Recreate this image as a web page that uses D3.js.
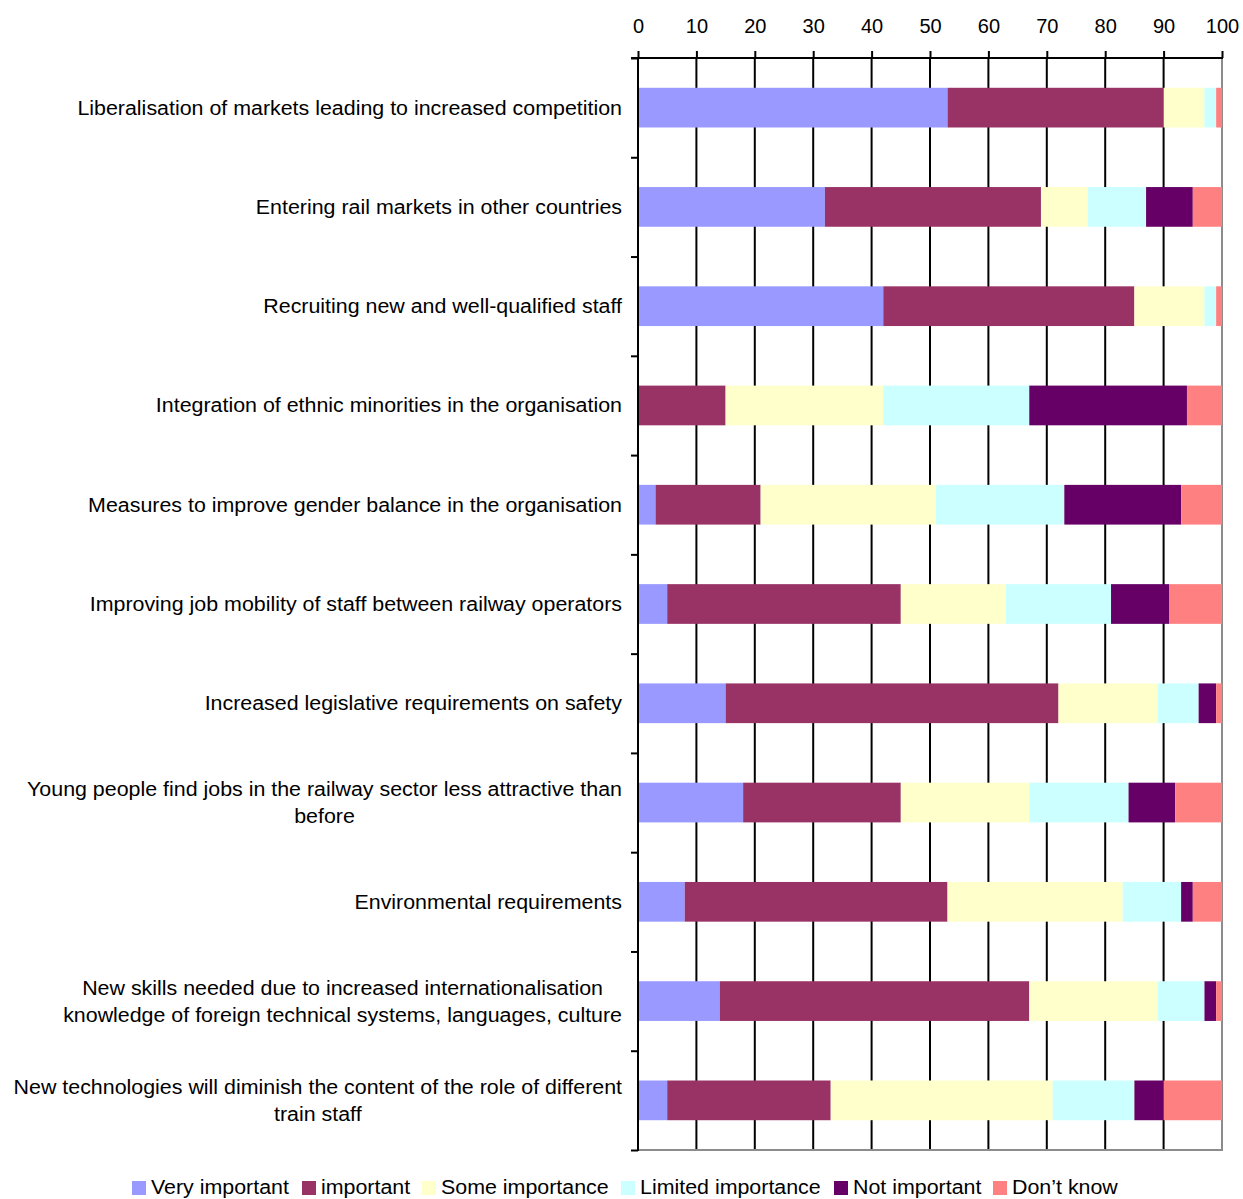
<!DOCTYPE html>
<html>
<head>
<meta charset="utf-8">
<script src="https://cdn.jsdelivr.net/npm/d3@7"></script>
<style>
  html, body { margin: 0; padding: 0; background: #fff; }
  svg text { font-family: "Liberation Sans", Arial, sans-serif; fill: #000; }
</style>
</head>
<body>
<svg id="chart" width="1243" height="1199"></svg>
<script>
// Survey factors (one row per category, each line of a label separate)
const categories = [
  ["Liberalisation of markets leading to increased competition"],
  ["Entering rail markets in other countries"],
  ["Recruiting new and well-qualified staff"],
  ["Integration of ethnic minorities in the organisation"],
  ["Measures to improve gender balance in the organisation"],
  ["Improving job mobility of staff between railway operators"],
  ["Increased legislative requirements on safety"],
  ["Young people find jobs in the railway sector less attractive than", "before"],
  ["Environmental requirements"],
  ["New skills needed due to increased internationalisation", "knowledge of foreign technical systems, languages, culture"],
  ["New technologies will diminish the content of the role of different", "train staff"]
];

const seriesNames = ["Very important", "important", "Some importance", "Limited importance", "Not important", "Don\u2019t know"];

// Percentages per series, in category order
const veryImportant   = [53, 32, 42,  0,  3,  5, 15, 18,  8, 14,  5];
const important       = [37, 37, 43, 15, 18, 40, 57, 27, 45, 53, 28];
const someImportance  = [ 7,  8, 12, 27, 30, 18, 17, 22, 30, 22, 38];
const limitedImport   = [ 2, 10,  2, 25, 22, 18,  7, 17, 10,  8, 14];
const notImportant    = [ 0,  8,  0, 27, 20, 10,  3,  8,  2,  2,  5];
const dontKnow        = [ 1,  5,  1,  6,  7,  9,  1,  8,  5,  1, 10];

const axisTicks = [0, 10, 20, 30, 40, 50, 60, 70, 80, 90, 100];

const colors = ["#9999FF", "#993366", "#FFFFCC", "#CCFFFF", "#660066", "#FF8080"];

const seriesValues = [veryImportant, important, someImportance, limitedImport, notImportant, dontKnow];
const keys = categories.map((c, i) => "c" + i);
const rows = keys.map((k, i) => {
  const r = { key: k };
  seriesNames.forEach((s, j) => { r[s] = seriesValues[j][i]; });
  return r;
});

const svg = d3.select("#chart");
const plotLeft = 638, plotRight = 1222, plotTop = 58, plotBottom = 1150;
const textStretch = 1.07;   // label and legend text is set slightly wide

const x = d3.scaleLinear().domain([0, 100]).range([plotLeft, plotRight]);
const y = d3.scaleBand().domain(keys).range([plotTop, plotBottom]).paddingInner(0.6).paddingOuter(0.3);
const yEdges = d3.scaleLinear().domain([0, categories.length]).range([plotTop, plotBottom]);

// Vertical gridlines
svg.append("g")
  .selectAll("line")
  .data(axisTicks.filter(t => t > 0 && t < 100))
  .join("line")
  .attr("x1", d => x(d)).attr("x2", d => x(d))
  .attr("y1", plotTop).attr("y2", plotBottom)
  .attr("stroke", "#000").attr("stroke-width", 2);

// Plot-area border on the right and bottom
svg.append("path")
  .attr("d", `M${x(100)},${plotTop}V${plotBottom}H${plotLeft}`)
  .attr("fill", "none").attr("stroke", "#8c8c8c").attr("stroke-width", 2);

// Stacked bars
const stacked = d3.stack().keys(seriesNames)(rows);
svg.append("g")
  .selectAll("g")
  .data(stacked)
  .join("g")
  .attr("fill", (d, i) => colors[i])
  .selectAll("rect")
  .data(d => d)
  .join("rect")
  .attr("x", d => x(d[0]))
  .attr("width", d => x(d[1]) - x(d[0]))
  .attr("y", d => y(d.data.key))
  .attr("height", y.bandwidth());

// Top value axis
const topAxis = svg.append("g")
  .attr("transform", `translate(0,${plotTop})`)
  .call(d3.axisTop(x).tickValues(axisTicks).tickSize(7).tickPadding(18).tickFormat(d3.format("d")));
topAxis.select(".domain").remove();
topAxis.selectAll(".tick line").attr("stroke", "#000").attr("stroke-width", 2);
topAxis.selectAll(".tick text")
  .attr("font-size", 20).attr("font-family", "Liberation Sans, Arial, sans-serif").attr("fill", "#000");
svg.append("line")
  .attr("x1", plotLeft - 7).attr("x2", x(100) + 1)
  .attr("y1", plotTop).attr("y2", plotTop)
  .attr("stroke", "#000").attr("stroke-width", 2);

// Left category axis: ticks at band boundaries
const leftAxis = svg.append("g")
  .attr("transform", `translate(${plotLeft},0)`)
  .call(d3.axisLeft(yEdges).tickValues(d3.range(categories.length + 1)).tickSize(7).tickFormat(""));
leftAxis.select(".domain").remove();
leftAxis.selectAll(".tick line").attr("stroke", "#000").attr("stroke-width", 2);
svg.append("line")
  .attr("x1", plotLeft).attr("x2", plotLeft)
  .attr("y1", plotTop - 1).attr("y2", plotBottom + 1)
  .attr("stroke", "#000").attr("stroke-width", 2);

// Category labels: single lines right-aligned; wrapped labels centred as a block
const labelRight = 622, lineHeight = 27;
const labels = svg.append("g").attr("font-size", 20);
categories.forEach((lines, i) => {
  const cy = y(keys[i]) + y.bandwidth() / 2;
  const g = labels.append("g")
    .attr("transform", `translate(${labelRight},0) scale(${textStretch},1)`);
  const texts = lines.map((ln, j) => g.append("text")
    .attr("y", cy + (j - (lines.length - 1) / 2) * lineHeight)
    .attr("dy", "0.35em")
    .text(ln));
  if (lines.length === 1) {
    texts[0].attr("x", 0).attr("text-anchor", "end");
  } else {
    const w = d3.max(texts, t => t.node().getComputedTextLength());
    texts.forEach(t => t.attr("x", -w / 2).attr("text-anchor", "middle"));
  }
});

// Legend along the bottom
const legendX = [132, 302, 422, 621, 834, 993];
const legend = svg.append("g").attr("font-size", 20);
seriesNames.forEach((s, i) => {
  legend.append("rect")
    .attr("x", legendX[i]).attr("y", 1181)
    .attr("width", 14).attr("height", 14)
    .attr("fill", colors[i]);
  legend.append("g")
    .attr("transform", `translate(${legendX[i] + 19},0) scale(${textStretch},1)`)
    .append("text")
    .attr("x", 0).attr("y", 1194.5)
    .text(s);
});
</script>
</body>
</html>
